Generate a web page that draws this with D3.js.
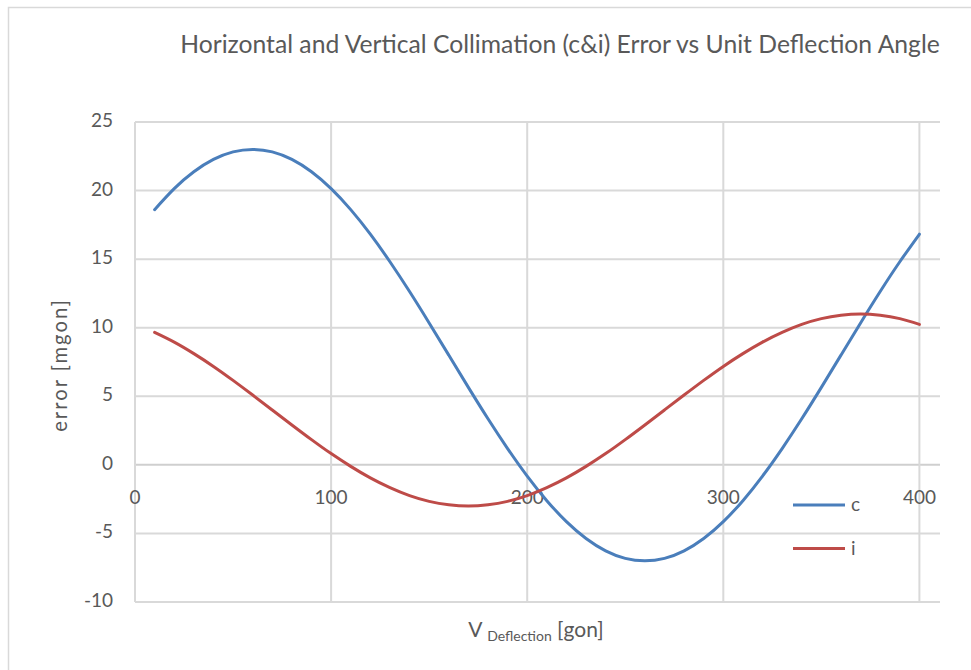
<!DOCTYPE html>
<html>
<head>
<meta charset="utf-8">
<script src="https://cdn.jsdelivr.net/npm/d3@7"></script>
<style>
  body { margin: 0; background: #fff; }
  svg text { font-family: Lato, "Open Sans", sans-serif; fill: #595959; }
</style>
</head>
<body>
<svg id="chart" width="971" height="670"></svg>
<script>
// deflection angle [gon]
const deflection = [10, 20, 30, 40, 50, 60, 70, 80, 90, 100,
  110, 120, 130, 140, 150, 160, 170, 180, 190, 200,
  210, 220, 230, 240, 250, 260, 270, 280, 290, 300,
  310, 320, 330, 340, 350, 360, 370, 380, 390, 400];

// horizontal collimation error c [mgon]
const cError = [18.61, 20.14, 21.37, 22.27, 22.82, 23.00, 22.82, 22.27, 21.37, 20.14,
  18.61, 16.82, 14.81, 12.64, 10.35, 8.00, 5.65, 3.36, 1.19, -0.82,
  -2.61, -4.14, -5.37, -6.27, -6.82, -7.00, -6.82, -6.27, -5.37, -4.14,
  -2.61, -0.82, 1.19, 3.36, 5.65, 8.00, 10.35, 12.64, 14.81, 16.82];

// vertical collimation error i [mgon]
const iError = [9.66, 8.95, 8.11, 7.18, 6.16, 5.09, 4.00, 2.91, 1.84, 0.82,
  -0.11, -0.95, -1.66, -2.24, -2.66, -2.91, -3.00, -2.91, -2.66, -2.24,
  -1.66, -0.95, -0.11, 0.82, 1.84, 2.91, 4.00, 5.09, 6.16, 7.18,
  8.11, 8.95, 9.66, 10.24, 10.66, 10.91, 11.00, 10.91, 10.66, 10.24];

const xTicks = [0, 100, 200, 300, 400];
const yTicks = [-10, -5, 0, 5, 10, 15, 20, 25];
const seriesNames = ['c', 'i'];
const seriesColors = ['#4a7ebb', '#be4b48'];

const svg = d3.select('#chart');
const plot = { left: 135, top: 122, right: 940, bottom: 602 };

const x = d3.scaleLinear().domain([0, 410.5]).range([plot.left, plot.right]);
const y = d3.scaleLinear().domain([-10, 25]).range([plot.bottom, plot.top]);

// chart area border (only top/left visible in the crop)
svg.append('rect')
   .attr('x', 8.5).attr('y', 7.5)
   .attr('width', 1200).attr('height', 1000)
   .attr('fill', 'none')
   .attr('stroke', '#d9d9d9')
   .attr('stroke-width', 1.5);

// gridlines
const grid = svg.append('g').attr('class', 'grid');
grid.selectAll('.hgrid')
    .data(yTicks)
    .enter().append('line')
    .attr('class', 'hgrid')
    .attr('x1', plot.left).attr('x2', plot.right)
    .attr('y1', d => y(d)).attr('y2', d => y(d))
    .attr('stroke', d => d === 0 ? '#cfcfcf' : '#d9d9d9')
    .attr('stroke-width', 2);

grid.selectAll('.vgrid')
    .data(xTicks)
    .enter().append('line')
    .attr('class', 'vgrid')
    .attr('x1', d => x(d)).attr('x2', d => x(d))
    .attr('y1', plot.top).attr('y2', plot.bottom)
    .attr('stroke', '#d9d9d9')
    .attr('stroke-width', 2);

// y tick labels
svg.selectAll('.ylab')
   .data(yTicks)
   .enter().append('text')
   .attr('class', 'ylab')
   .attr('x', 113)
   .attr('y', d => y(d) + 5)
   .attr('text-anchor', 'end')
   .attr('font-size', 19)
   .text(d => d);

// x tick labels, sitting under the zero line
svg.selectAll('.xlab')
   .data(xTicks)
   .enter().append('text')
   .attr('class', 'xlab')
   .attr('x', d => x(d))
   .attr('y', y(0) + 39)
   .attr('text-anchor', 'middle')
   .attr('font-size', 19)
   .text(d => d);

// series
const line = d3.line()
               .x(d => x(d[0]))
               .y(d => y(d[1]))
               .curve(d3.curveNatural);

[cError, iError].forEach((vals, k) => {
  svg.append('path')
     .datum(deflection.map((d, j) => [d, vals[j]]))
     .attr('fill', 'none')
     .attr('stroke', seriesColors[k])
     .attr('stroke-width', 3)
     .attr('stroke-linecap', 'round')
     .attr('d', line);
});

// legend
const legend = svg.selectAll('.legend')
                  .data(seriesNames)
                  .enter().append('g')
                  .attr('class', 'legend')
                  .attr('transform', (d, k) => 'translate(793,' + (505 + k * 43.5) + ')');
legend.append('line')
      .attr('x1', 0).attr('x2', 52)
      .attr('stroke', (d, k) => seriesColors[k])
      .attr('stroke-width', 3);
legend.append('text')
      .attr('x', 58).attr('y', 6)
      .attr('font-size', 19)
      .text(d => d);

// fit a text to a given width by tuning its font size
function fitText(sel, width) {
  const w = sel.node().getComputedTextLength();
  const fs = parseFloat(sel.attr('font-size'));
  sel.attr('font-size', fs * width / w);
}

// title
const title = svg.append('text')
                 .attr('x', 560).attr('y', 53)
                 .attr('text-anchor', 'middle')
                 .attr('font-size', 20)
                 .text('Horizontal and Vertical Collimation (c&i) Error vs Unit Deflection Angle');
fitText(title, 760);

// y axis title
const yTitle = svg.append('text')
                  .attr('transform', 'translate(67,365) rotate(-90)')
                  .attr('text-anchor', 'middle')
                  .attr('font-size', 20)
                  .attr('letter-spacing', 2)
                  .text('error [mgon]');
fitText(yTitle, 134);

// x axis title with subscript
const xTitle = svg.append('g');
const xText = xTitle.append('text')
                    .attr('x', 536).attr('y', 637)
                    .attr('text-anchor', 'middle')
                    .attr('font-size', 21);
xText.append('tspan').text('V ');
xText.append('tspan').attr('font-size', 14).attr('dy', 4).text('Deflection');
xText.append('tspan').attr('dy', -4).text(' [gon]');
</script>
</body>
</html>
